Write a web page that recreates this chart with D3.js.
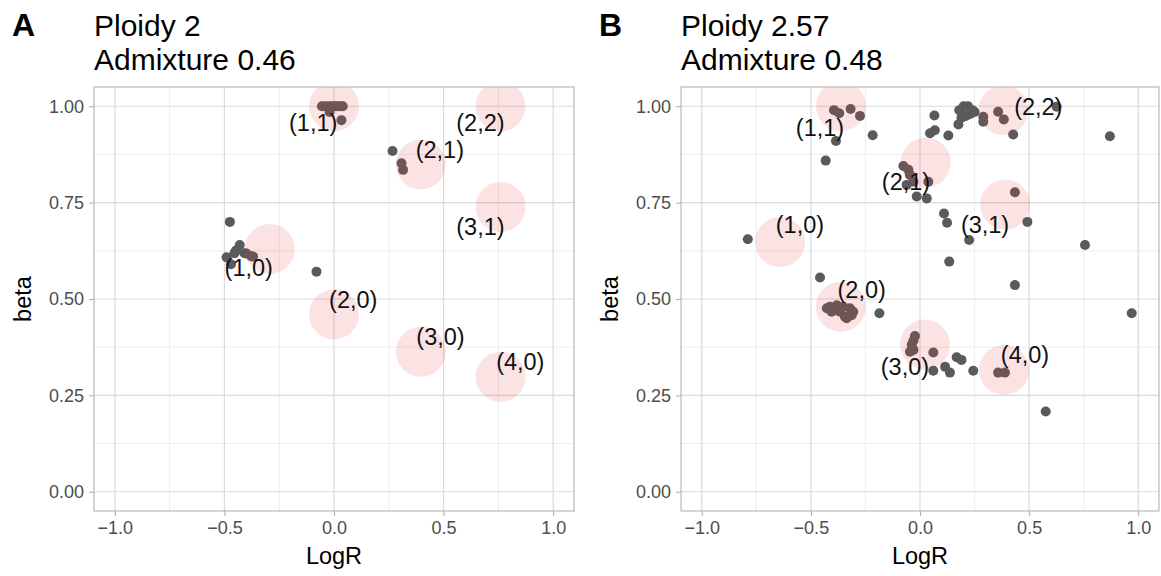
<!DOCTYPE html>
<html>
<head>
<meta charset="utf-8">
<script src="https://cdn.jsdelivr.net/npm/d3@7"></script>
<style>
  body { margin: 0; background: #fff; }
  text { font-family: "Liberation Sans", Arial, Helvetica, sans-serif; }
</style>
</head>
<body>
<svg id="chart" width="1161" height="576"></svg>
<script>
// ---- Copy-number states (shared labels) ----
const stateLabels = ["(1,1)", "(2,2)", "(2,1)", "(3,1)", "(1,0)", "(2,0)", "(3,0)", "(4,0)"];

// ---- Panel A: ploidy 2, admixture 0.46 ----
const stateLogRA = [0.00, 0.76, 0.396, 0.76, -0.293, 0.00, 0.396, 0.76];
const stateBetaA = [1.00, 1.00, 0.849, 0.739, 0.630, 0.460, 0.363, 0.298];
const labelLogRA = [-0.095, 0.668, 0.483, 0.668, -0.389, 0.088, 0.486, 0.85];
const labelBetaA = [0.957, 0.957, 0.886, 0.687, 0.580, 0.497, 0.402, 0.337];
const segLogRA = [-0.055, -0.04, -0.025, -0.01, 0.00, 0.01, 0.02, 0.03, 0.04, -0.02, 0.034,
                  0.267, 0.308, 0.315,
                  -0.475, -0.43, -0.49, -0.454, -0.408, -0.378, -0.47, -0.447, -0.40, -0.369,
                  -0.08];
const segBetaA = [1.00, 1.00, 1.00, 1.00, 1.00, 1.00, 1.00, 1.00, 1.00, 0.985, 0.964,
                  0.884, 0.852, 0.835,
                  0.700, 0.640, 0.608, 0.619, 0.619, 0.611, 0.590, 0.626, 0.618, 0.610,
                  0.571];

// ---- Panel B: ploidy 2.57, admixture 0.48 ----
const stateLogRB = [-0.362, 0.382, 0.026, 0.39, -0.641, -0.363, 0.023, 0.385];
const stateBetaB = [1.00, 0.99, 0.854, 0.745, 0.648, 0.480, 0.382, 0.316];
const labelLogRB = [-0.458, 0.542, -0.064, 0.298, -0.55, -0.267, -0.069, 0.481];
const labelBetaB = [0.943, 0.999, 0.803, 0.692, 0.691, 0.523, 0.323, 0.356];
const segLogRB = [
  // around (1,1)
  -0.394, -0.37, -0.318, -0.275, -0.385, -0.432, -0.217,
  // upper cluster near beta 1
  0.066, 0.046, 0.068, 0.13, 0.176, 0.18, 0.20, 0.22, 0.24, 0.23, 0.21, 0.19, 0.25,
  0.29, 0.29, 0.358, 0.384, 0.427, 0.626, 0.87,
  // around (2,1)
  -0.076, -0.053, -0.046, -0.03, 0.038, -0.015, 0.031, -0.061, 0.11, 0.124, 0.225, 0.134,
  // around (3,1) and scattered
  0.435, 0.492, 0.756, 0.435, 0.97, -0.789, -0.458, -0.186,
  // around (2,0)
  -0.412, -0.427, -0.381, -0.351, -0.321, -0.306, -0.344, -0.367, -0.405, -0.313, -0.336,
  // around (3,0) and (4,0)
  -0.023, -0.03, -0.038, -0.046, -0.03, 0.061, 0.061, 0.115, 0.137, 0.168, 0.19, 0.244,
  0.358, 0.389, 0.576
];
const segBetaB = [
  0.990, 0.982, 0.993, 0.975, 0.910, 0.859, 0.925,
  0.976, 0.930, 0.938, 0.924, 0.953, 0.990, 1.00, 1.00, 0.99, 0.98, 0.975, 0.97, 0.985,
  0.973, 0.960, 0.986, 0.966, 0.927, 0.999, 0.922,
  0.845, 0.835, 0.822, 0.804, 0.804, 0.766, 0.761, 0.796, 0.722, 0.698, 0.653, 0.597,
  0.777, 0.700, 0.640, 0.536, 0.463, 0.655, 0.556, 0.463,
  0.480, 0.476, 0.484, 0.480, 0.476, 0.467, 0.454, 0.467, 0.467, 0.458, 0.450,
  0.404, 0.392, 0.381, 0.363, 0.368, 0.361, 0.314, 0.324, 0.309, 0.349, 0.342, 0.314,
  0.309, 0.309, 0.208
];

// ---- Axis ticks ----
const xMajor = [-1.0, -0.5, 0.0, 0.5, 1.0];
const xMinor = [-0.75, -0.25, 0.25, 0.75];
const yMajor = [0.00, 0.25, 0.50, 0.75, 1.00];
const yMinor = [0.125, 0.375, 0.625, 0.875];
const xDomain = [-1.095, 1.095];
const yDomain = [-0.05, 1.05];

const svg = d3.select("#chart");
const panelTop = 87, panelBottom = 511;

function drawPanel(opts) {
  const { left, right, letter, titleLines, stLogR, stBeta, lbLogR, lbBeta, ptLogR, ptBeta, id } = opts;
  const x = d3.scaleLinear().domain(xDomain).range([left, right]);
  const y = d3.scaleLinear().domain(yDomain).range([panelBottom, panelTop]);
  const g = svg.append("g");

  g.append("clipPath").attr("id", "clip" + id)
    .append("rect").attr("x", left).attr("y", panelTop)
    .attr("width", right - left).attr("height", panelBottom - panelTop);

  // grid
  const grid = g.append("g");
  grid.selectAll(".xmin").data(xMinor).join("line")
    .attr("x1", d => x(d)).attr("x2", d => x(d)).attr("y1", panelTop).attr("y2", panelBottom)
    .attr("stroke", "#e8e8e8").attr("stroke-width", 0.8);
  grid.selectAll(".ymin").data(yMinor).join("line")
    .attr("y1", d => y(d)).attr("y2", d => y(d)).attr("x1", left).attr("x2", right)
    .attr("stroke", "#e8e8e8").attr("stroke-width", 0.8);
  grid.selectAll(".xmaj").data(xMajor).join("line")
    .attr("x1", d => x(d)).attr("x2", d => x(d)).attr("y1", panelTop).attr("y2", panelBottom)
    .attr("stroke", "#dadada").attr("stroke-width", 1.2);
  grid.selectAll(".ymaj").data(yMajor).join("line")
    .attr("y1", d => y(d)).attr("y2", d => y(d)).attr("x1", left).attr("x2", right)
    .attr("stroke", "#dadada").attr("stroke-width", 1.2);

  const plot = g.append("g").attr("clip-path", `url(#clip${id})`);

  // segment points
  plot.selectAll(".pt").data(d3.range(ptLogR.length)).join("circle")
    .attr("cx", i => x(ptLogR[i])).attr("cy", i => y(ptBeta[i]))
    .attr("r", 5).attr("fill", "#5a5a5a");

  // expected copy-number states
  plot.selectAll(".st").data(d3.range(stLogR.length)).join("circle")
    .attr("cx", i => x(stLogR[i])).attr("cy", i => y(stBeta[i]))
    .attr("r", 25).attr("fill", "rgb(238,70,70)").attr("fill-opacity", 0.15);

  // state labels
  plot.selectAll(".lb").data(d3.range(stateLabels.length)).join("text")
    .attr("x", i => x(lbLogR[i])).attr("y", i => y(lbBeta[i]))
    .attr("text-anchor", "middle").attr("dominant-baseline", "central")
    .attr("font-size", 23.5).attr("fill", "#111")
    .text(i => stateLabels[i]);

  // border
  g.append("rect").attr("x", left).attr("y", panelTop)
    .attr("width", right - left).attr("height", panelBottom - panelTop)
    .attr("fill", "none").attr("stroke", "#b3b3b3").attr("stroke-width", 1.1);

  // axes
  const xAxis = d3.axisBottom(x).tickValues(xMajor).tickFormat(d3.format(".1f")).tickSize(5).tickPadding(5);
  const yAxis = d3.axisLeft(y).tickValues(yMajor).tickFormat(d3.format(".2f")).tickSize(5).tickPadding(5);
  const xa = g.append("g").attr("transform", `translate(0,${panelBottom})`).call(xAxis);
  const ya = g.append("g").attr("transform", `translate(${left},0)`).call(yAxis);
  [xa, ya].forEach(a => {
    a.select(".domain").remove();
    a.selectAll(".tick line").attr("stroke", "#b3b3b3").attr("stroke-width", 1.1);
    a.selectAll(".tick text").attr("fill", "#4d4d4d").attr("font-size", 18)
      .style("font-family", '"Liberation Sans", Arial, sans-serif');
  });

  // axis titles
  g.append("text").attr("x", (left + right) / 2).attr("y", 564)
    .attr("text-anchor", "middle").attr("font-size", 23.5).attr("fill", "#000").text("LogR");
  g.append("text")
    .attr("transform", `translate(${left - 63},${(panelTop + panelBottom) / 2}) rotate(-90)`)
    .attr("text-anchor", "middle").attr("font-size", 23.5).attr("fill", "#000").text("beta");

  // panel letter and title
  svg.append("text").attr("x", left - 82).attr("y", 36)
    .attr("font-size", 32).attr("font-weight", "bold").attr("fill", "#000").text(letter);
  svg.append("text").attr("x", left).attr("y", 36).attr("font-size", 30).attr("fill", "#000").text(titleLines[0]);
  svg.append("text").attr("x", left).attr("y", 70).attr("font-size", 30).attr("fill", "#000").text(titleLines[1]);
}

drawPanel({
  id: "A", left: 94, right: 574, letter: "A",
  titleLines: ["Ploidy 2", "Admixture 0.46"],
  stLogR: stateLogRA, stBeta: stateBetaA,
  lbLogR: labelLogRA, lbBeta: labelBetaA,
  ptLogR: segLogRA, ptBeta: segBetaA
});

drawPanel({
  id: "B", left: 681, right: 1159, letter: "B",
  titleLines: ["Ploidy 2.57", "Admixture 0.48"],
  stLogR: stateLogRB, stBeta: stateBetaB,
  lbLogR: labelLogRB, lbBeta: labelBetaB,
  ptLogR: segLogRB, ptBeta: segBetaB
});
</script>
</body>
</html>
